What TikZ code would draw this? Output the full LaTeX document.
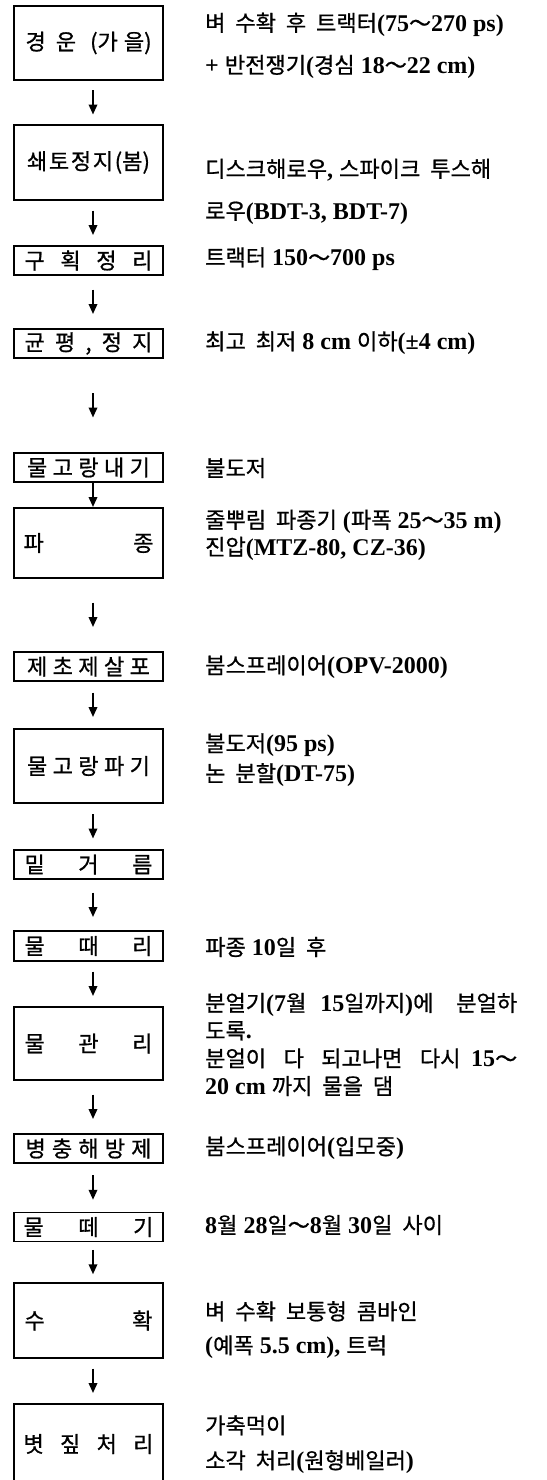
\documentclass[tikz,border=0pt]{standalone}
\usepackage{fontspec}
\setmainfont{Liberation Serif}
\newfontfamily\korf[Scale=0.92,WordSpace=2,FakeBold=0.8]{Noto Sans CJK KR}
\usetikzlibrary{arrows.meta,calc}
\newcommand\KR[1]{{\korf\mdseries #1}}
\newcommand\lab[2]{\makebox[#1pt][s]{\KR{#2}}}
\begin{document}
\begin{tikzpicture}[x=1pt,y=-1pt,
  stage/.style={draw, line width=1.1pt, minimum width=149pt, inner sep=0pt,
    font=\fontsize{24}{28}\selectfont\bfseries},
  lowbox/.style={stage, minimum height=29pt},
  highbox/.style={stage, minimum height=74pt},
  note/.style={anchor=west, inner sep=0pt, align=left,
    font=\fontsize{24}{42}\selectfont\bfseries},
  arr/.style={line width=1.9pt, -{Triangle[length=10pt,width=8.5pt]}}]
\useasboundingbox (0,0) rectangle (546,1480);
\fill[white] (0,0) rectangle (546,1480);
% boxes
\node[highbox] (b1) at (88.5,43) {\lab{126}{경\hskip 10pt 운\hskip 14pt plus 1fil(가\hskip 6pt 을)}};
\node[highbox, minimum height=75pt] (b2) at (88.5,162.5) {\lab{123}{쇄\hfill 토\hfill 정\hfill 지\hfill (봄)}};
\node[lowbox] (b3) at (88.5,260.5) {\lab{128}{구\hfill 획\hfill 정\hfill 리}};
\node[lowbox] (b4) at (88.5,343.5) {\lab{128}{균\hfill 평\hfill ,\hfill 정\hfill 지}};
\node[lowbox] (b5) at (88.5,467.5) {\lab{123}{물\hfill 고\hfill 랑\hfill 내\hfill 기}};
\node[highbox, minimum height=70pt] (b6) at (88.5,543) {\lab{130}{파\hfill 종}};
\node[lowbox] (b7) at (88.5,666.5) {\lab{123}{제\hfill 초\hfill 제\hfill 살\hfill 포}};
\node[highbox] (b8) at (88.5,766) {\lab{123}{물\hfill 고\hfill 랑\hfill 파\hfill 기}};
\node[lowbox] (b9) at (88.5,864.5) {\lab{128}{밑\hfill 거\hfill 름}};
\node[lowbox, minimum height=30pt] (b10) at (88.5,946) {\lab{128}{물\hfill 때\hfill 리}};
\node[highbox, minimum height=73pt] (b11) at (88.5,1043.5) {\lab{128}{물\hfill 관\hfill 리}};
\node[lowbox] (b12) at (88.5,1148.5) {\lab{126}{병\hfill 충\hfill 해\hfill 방\hfill 제}};
\node[lowbox] (b13) at (88.5,1227) {\lab{130}{물\hfill 떼\hfill 기}};
\node[highbox, minimum height=75pt] (b14) at (88.5,1320.5) {\lab{128}{수\hfill 확}};
\node[highbox, minimum height=80pt] (b15) at (88.5,1444) {\lab{130}{볏\hfill 짚\hfill 처\hfill 리}};
% arrows
\foreach \a/\b in {b1/b2,b2/b3,b3/b4,b4/b5,b5/b6,b6/b7,b7/b8,b8/b9,b9/b10,b10/b11,b11/b12,b12/b13,b13/b14,b14/b15}
  \draw[arr] ($(\a.south)!.5!(\b.north)+(4.5,-12.5)$) -- ($(\a.south)!.5!(\b.north)+(4.5,12)$);
% notes
\node[note] (t1) at (205,45.5) {\KR{벼 수확 후 트랙터}(75\KR{～}270 ps)\\+ \KR{반전쟁기}(\KR{경심} 18\KR{～}22 cm)};
\node[note] (t2) at (205,191.5) {\KR{디스크해로우}, \KR{스파이크 투스해}\\\KR{로우}(BDT-3, BDT-7)};
\node[note] (t3) at (205,259) {\KR{트랙터} 150\KR{～}700 ps};
\node[note] (t4) at (205,343) {\KR{최고 최저} 8 cm \KR{이하}(±4 cm)};
\node[note] (t5) at (205,468) {\KR{불도저}};
\node[note, font=\fontsize{24}{27}\selectfont\bfseries] (t6) at (205,535) {\KR{줄뿌림 파종기} (\KR{파폭} 25\KR{～}35 m)\\\KR{진압}(MTZ-80, CZ-36)};
\node[note] (t7) at (205,667) {\KR{붐스프레이어}(OPV-2000)};
\node[note, font=\fontsize{24}{30}\selectfont\bfseries] (t8) at (205,760) {\KR{불도저}(95 ps)\\\KR{논 분할}(DT-75)};
\node[note] (t10) at (205,947) {\KR{파종} 10\KR{일 후}};
\node[note, font=\fontsize{24}{27.7}\selectfont\bfseries] (t11) at (205,1044.5) {\makebox[312pt][s]{\KR{분얼기}(7\KR{월} 15\KR{일까지})\KR{에 분얼하}}\\\KR{도록}.\\\makebox[312pt][s]{\KR{분얼이 다 되고나면 다시} 15\KR{～}}\\20 cm \KR{까지 물을 댐}};
\node[note] (t12) at (205,1148) {\KR{붐스프레이어}(\KR{입모중})};
\node[note] (t13) at (205,1225) {8\KR{월} 28\KR{일～}8\KR{월} 30\KR{일 사이}};
\node[note, font=\fontsize{24}{34}\selectfont\bfseries] (t14) at (205,1330) {\KR{벼 수확 보통형 콤바인}\\(\KR{예폭} 5.5 cm), \KR{트럭}};
\node[note, font=\fontsize{24}{35}\selectfont\bfseries] (t15) at (205,1444.5) {\KR{가축먹이}\\\KR{소각 처리}(\KR{원형베일러})};
\end{tikzpicture}
\end{document}
